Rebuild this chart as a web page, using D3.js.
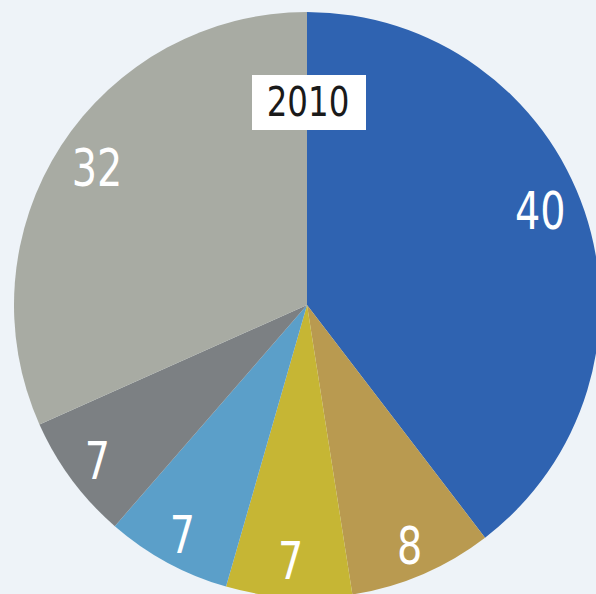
<!DOCTYPE html>
<html>
<head>
<meta charset="utf-8">
<script src="https://cdn.jsdelivr.net/npm/d3@7"></script>
<style>
  html, body { margin: 0; padding: 0; background: #eef3f8; }
  #chart { width: 596px; height: 594px; overflow: hidden; }
</style>
</head>
<body>
<div id="chart"></div>
<script>
var shares = [40, 8, 7, 7, 7, 32];
var labels = ["40", "8", "7", "7", "7", "32"];
var colors = ["#2f63b1", "#b99a50", "#c6b634", "#5b9fc9", "#7c8083", "#a8aba3"];
var year = "2010";

function init(){
    var w = 596, h = 594;
    var cx = 307, cy = 305, r = 293;
    var font = "'DejaVu Sans Condensed', 'DejaVu Sans', sans-serif";

    var svg = d3.select("#chart")
        .append("svg")
        .attr("width", w)
        .attr("height", h);

    svg.append("rect")
        .attr("width", w)
        .attr("height", h)
        .style("fill", "#eef3f8");

    var g = svg.append("g")
        .attr("transform", "translate(" + cx + "," + cy + ")");

    var pie = d3.pie().sort(null).value(function(d){ return d; });
    var arcs = pie(shares);

    var arc = d3.arc().innerRadius(0).outerRadius(r);
    var labelArc = d3.arc().innerRadius(261).outerRadius(261);

    g.selectAll("path.slice")
        .data(arcs)
        .enter()
        .append("path")
        .attr("class", "slice")
        .attr("d", arc)
        .style("fill", function(d, i){ return colors[i]; })
        .style("stroke", "none");

    g.selectAll("text.lab")
        .data(arcs)
        .enter()
        .append("text")
        .attr("class", "lab")
        .attr("transform", function(d, i){
            var c = labelArc.centroid(d);
            // big slice labels sit a little further in
            if (i === 0) c = [c[0] - 14, c[1] - 11];
            if (i === 5) c = [c[0] + 9, c[1] + 4];
            // keep the bottom label inside the frame
            if (i === 2) c = [c[0], c[1] - 5];
            return "translate(" + c[0] + "," + c[1] + ") scale(0.85,1)";
        })
        .attr("text-anchor", "middle")
        .attr("dy", "0.36em")
        .style("font-family", font)
        .style("font-stretch", "condensed")
        .style("font-size", "52px")
        .style("fill", "#ffffff")
        .text(function(d, i){ return labels[i]; });

    // year box
    svg.append("rect")
        .attr("x", 252)
        .attr("y", 75)
        .attr("width", 114)
        .attr("height", 55)
        .style("fill", "#ffffff");

    svg.append("text")
        .attr("transform", "translate(308,116) scale(0.88,1)")
        .attr("text-anchor", "middle")
        .style("font-family", font)
        .style("font-stretch", "condensed")
        .style("font-size", "41px")
        .style("fill", "#1a1a1a")
        .text(year);
}
init();
</script>
</body>
</html>
